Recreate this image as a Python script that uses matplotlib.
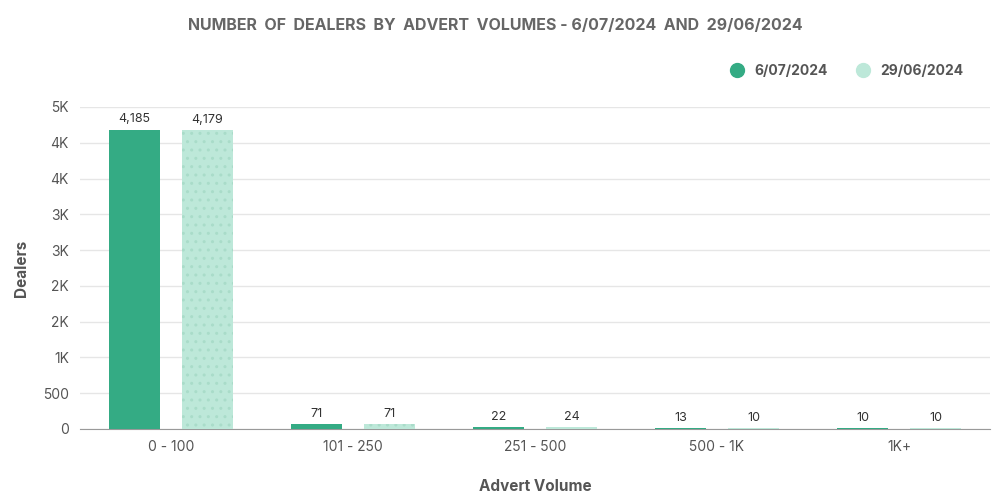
import matplotlib
matplotlib.use("Agg")
import matplotlib.pyplot as plt
import numpy as np

categories = ["0 - 100", "101 - 250", "251 - 500", "500 - 1K", "1K+"]
series_a = [4185, 71, 22, 13, 10]
series_b = [4179, 71, 24, 10, 10]
labels = ["6/07/2024", "29/06/2024"]
yticks = [0, 500, 1000, 1500, 2000, 2500, 3000, 3500, 4000, 4500]
ytick_labels = ["0", "500", "1K", "2K", "2K", "3K", "3K", "4K", "4K", "5K"]

plt.rcParams["font.family"] = "Inter"
fig = plt.figure(figsize=(10, 5), dpi=100)
ax = fig.add_axes([0.08, 0.142, 0.91, 0.644])
x = np.arange(len(categories))
c1, c2 = "#34ab84", "#bde8d9"
w = 0.28
b1 = ax.bar(x - 0.2, series_a, w, color=c1, label=labels[0], zorder=3)
b2 = ax.bar(x + 0.2, series_b, w, color=c2, label=labels[1], zorder=3,
            hatch="..", edgecolor="#a9dcc9", linewidth=0)
for bars in (b1, b2):
    for r in bars:
        ax.text(r.get_x() + r.get_width() / 2, r.get_height() + 60, f"{int(r.get_height()):,}",
                ha="center", va="bottom", fontsize=9, color="#333333")
ax.set_xlim(-0.5, 4.5)
ax.set_ylim(0, 4500)
ax.set_yticks(yticks)
ax.set_yticklabels(ytick_labels)
ax.set_xticks(x)
ax.set_xticklabels(categories)
ax.tick_params(axis="both", length=0, labelsize=10, colors="#555555", pad=8)
ax.grid(axis="y", color="#e6e6e6", linewidth=1, zorder=0)
for s in ["top", "right", "left"]:
    ax.spines[s].set_visible(False)
ax.spines["bottom"].set_color("#999999")
ax.set_xlabel("Advert Volume", fontsize=11, fontweight="bold", color="#555555", labelpad=18)
ax.set_ylabel("Dealers", fontsize=11, fontweight="bold", color="#555555", labelpad=10)
fig.text(0.495, 0.94, "NUMBER  OF  DEALERS  BY  ADVERT  VOLUMES - 6/07/2024  AND  29/06/2024",
         ha="center", fontsize=11.5, fontweight="bold", color="#666666")
ax.legend(loc="lower right", bbox_to_anchor=(0.985, 1.05), ncol=2, frameon=False,
          handlelength=1, handleheight=1, fontsize=10, labelcolor="#555555",
          prop={"weight": "bold", "size": 10}, columnspacing=2,
          handles=[plt.Line2D([], [], marker="o", ls="", color=c1, markersize=10),
                   plt.Line2D([], [], marker="o", ls="", color=c2, markersize=10)],
          labels=labels)
fig.savefig("out.png")
